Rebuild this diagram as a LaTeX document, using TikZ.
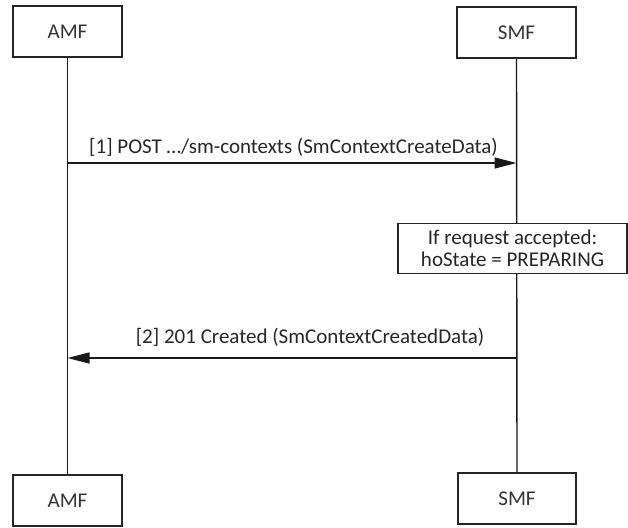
\documentclass[tikz,border=0pt]{standalone}
\usepackage{fontspec}
\setmainfont{Carlito}
\usetikzlibrary{arrows.meta}
\begin{document}
\begin{tikzpicture}[x=1pt,y=-1pt,
  ent/.style={draw=black!85,line width=1.3pt,minimum width=109pt,minimum height=51pt,inner sep=0pt,font=\fontsize{21}{24}\selectfont,text=black!80},
  life/.style={draw=black!90,line width=1.4pt},
  msg/.style={draw=black!90,line width=1.4pt,-{Triangle[length=22pt,width=11pt]}},
  lbl/.style={font=\fontsize{21}{24}\selectfont,text=black!85,inner sep=0pt},
  note/.style={draw=black!85,line width=1.3pt,fill=white,minimum width=229pt,minimum height=50pt,inner sep=0pt,align=center,font=\fontsize{21}{21.5}\selectfont,text=black!85}]
\useasboundingbox (0,0) rectangle (628,527);
\node[ent] (amfT) at (67.5,31.5) {AMF};
\node[ent,minimum width=119pt] (smfT) at (516.5,32.5) {SMF};
\node[ent] (amfB) at (67.5,500.5) {AMF};
\node[ent,minimum width=118pt] (smfB) at (517,498.5) {SMF};
\draw[life] (amfT.south) -- (amfB.north);
\draw[life] (smfT.south) -- (smfB.north);
\node[note] (nt) at (512.5,248.5) {If request accepted:\\hoState = PREPARING};
\coordinate (a1) at (amfT.south |- 0,163);
\coordinate (s1) at (smfT.south |- 0,163);
\draw[msg] (a1) -- (s1);
\node[lbl] (l1) at (293.5,147) {[1] POST …/sm-contexts (SmContextCreateData)};
\coordinate (a2) at (amfT.south |- 0,358);
\coordinate (s2) at (smfT.south |- 0,358);
\draw[msg] (s2) -- (a2);
\node[lbl] (l2) at (310,337) {[2] 201 Created (SmContextCreatedData)};
\end{tikzpicture}
\end{document}
